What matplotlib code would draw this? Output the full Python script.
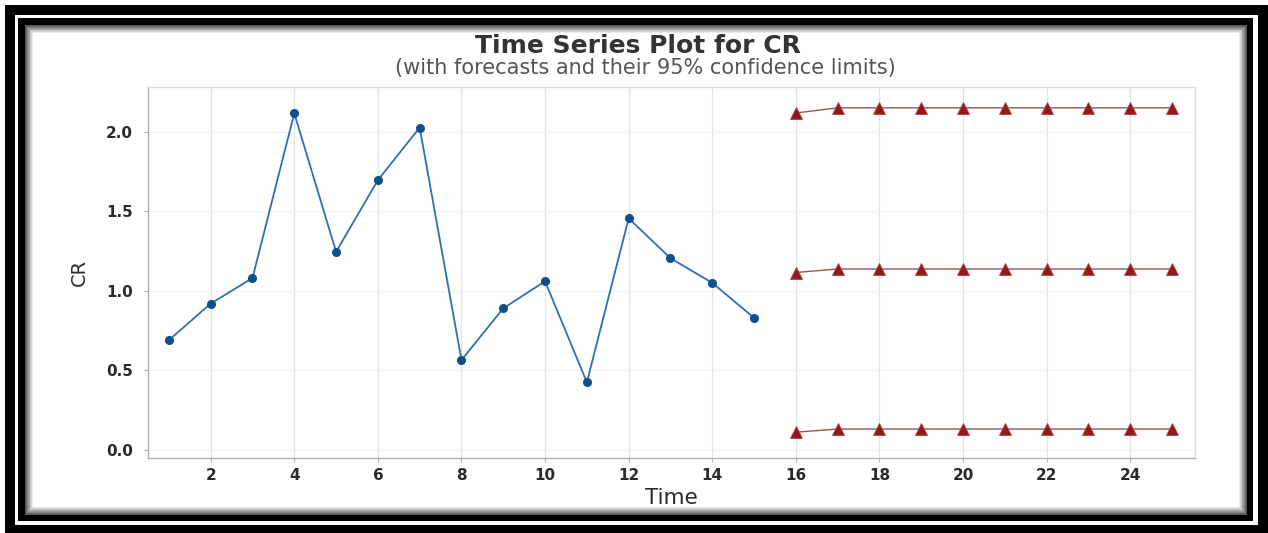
import matplotlib
matplotlib.use("Agg")
import matplotlib.pyplot as plt
from matplotlib.patches import Rectangle
import numpy as np

plt.rcParams['font.family'] = ['DejaVu Sans']

# ---- data ----
time_obs = [1, 2, 3, 4, 5, 6, 7, 8, 9, 10, 11, 12, 13, 14, 15]
cr_obs = [0.69, 0.92, 1.08, 2.115, 1.245, 1.695, 2.025, 0.565, 0.89, 1.06, 0.425, 1.455, 1.205, 1.05, 0.83]
time_fc = [16, 17, 18, 19, 20, 21, 22, 23, 24, 25]
fc_mid = [1.115, 1.137, 1.137, 1.137, 1.137, 1.137, 1.137, 1.137, 1.137, 1.137]
fc_upper = [2.117, 2.149, 2.149, 2.149, 2.149, 2.149, 2.149, 2.149, 2.149, 2.149]
fc_lower = [0.112, 0.132, 0.132, 0.132, 0.132, 0.132, 0.132, 0.132, 0.132, 0.132]
x_ticks = [2, 4, 6, 8, 10, 12, 14, 16, 18, 20, 22, 24]
y_ticks = [0.0, 0.5, 1.0, 1.5, 2.0]

W, H = 1268, 533
fig = plt.figure(figsize=(W / 100, H / 100), dpi=100)
fig.patch.set_facecolor('white')

# ---- decorative frame (pixel coordinates, origin top-left) ----
bg = fig.add_axes([0, 0, 1, 1], zorder=0)
bg.set_xlim(0, W)
bg.set_ylim(H, 0)
bg.axis('off')

def rect(x0, y0, x1, y1, color):
    bg.add_patch(Rectangle((x0, y0), x1 - x0, y1 - y0, facecolor=color, edgecolor='none', lw=0))

rect(5, 5, W, H, 'black')
rect(15, 15, 1258, 525, 'white')
rect(18, 18, 1253, 521, 'black')
nsteps = 9
for i in range(nsteps):
    g = 0.25 + 0.75 * (i + 1) / nsteps
    g = min(g, 1.0)
    rect(25 + i, 25 + i, 1247 - i, 515 - i, (g, g, g))
rect(25 + nsteps, 25 + nsteps, 1247 - nsteps, 515 - nsteps, 'white')

# ---- main axes ----
left, right = 148 / W, 1195 / W
top, bottom = 1 - 87 / H, 1 - 458 / H
ax = fig.add_axes([left, bottom, right - left, top - bottom], zorder=1)
ax.set_facecolor('white')

ax.plot(time_obs, cr_obs, color='#2f6fb5', lw=1.3, marker='o', ms=5.5,
        markerfacecolor='#0e4f8e', markeredgecolor='#0e4f8e', zorder=3)
for series in (fc_upper, fc_mid, fc_lower):
    ax.plot(time_fc, series, color='#8a5a5a', lw=1.0, marker='^', ms=8.5,
            markerfacecolor='#8e1b1f', markeredgecolor='#c23b3b', markeredgewidth=0.6, zorder=3)

ax.set_xlim(0.5, 25.55)
ax.set_ylim(-0.05, 2.28)
ax.set_xticks(x_ticks)
ax.set_yticks(y_ticks)
ax.set_yticklabels([f'{v:.1f}' for v in y_ticks])

ax.grid(axis='x', color='#e2e2e2', lw=0.9)
ax.grid(axis='y', color='#f3f3f3', lw=0.9)
ax.set_axisbelow(True)

for s in ('left', 'bottom'):
    ax.spines[s].set_color('#b0b0b0')
for s in ('top', 'right'):
    ax.spines[s].set_color('#dcdcdc')
for s in ax.spines.values():
    s.set_linewidth(1.0)

ax.tick_params(axis='both', length=3, color='#b0b0b0', labelsize=11, labelcolor='#2a2a2a')
ax.tick_params(axis='x', pad=4)
ax.tick_params(axis='y', pad=8)
for lab in ax.get_xticklabels() + ax.get_yticklabels():
    lab.set_fontweight('bold')

ax.set_xlabel('Time', fontsize=15.5, color='#2a2a2a', labelpad=4)
ax.set_ylabel('CR', fontsize=14, color='#2a2a2a', labelpad=12,
              family=['Liberation Sans Narrow', 'DejaVu Sans'])

fig.text(638 / W, 1 - 46 / H, 'Time Series Plot for CR', ha='center', va='center',
         fontsize=18, fontweight='bold', color='#333333')
fig.text(645 / W, 1 - 68 / H, '(with forecasts and their 95% confidence limits)', ha='center', va='center',
         fontsize=15, color='#555555')

fig.savefig('out.png', dpi=100)
